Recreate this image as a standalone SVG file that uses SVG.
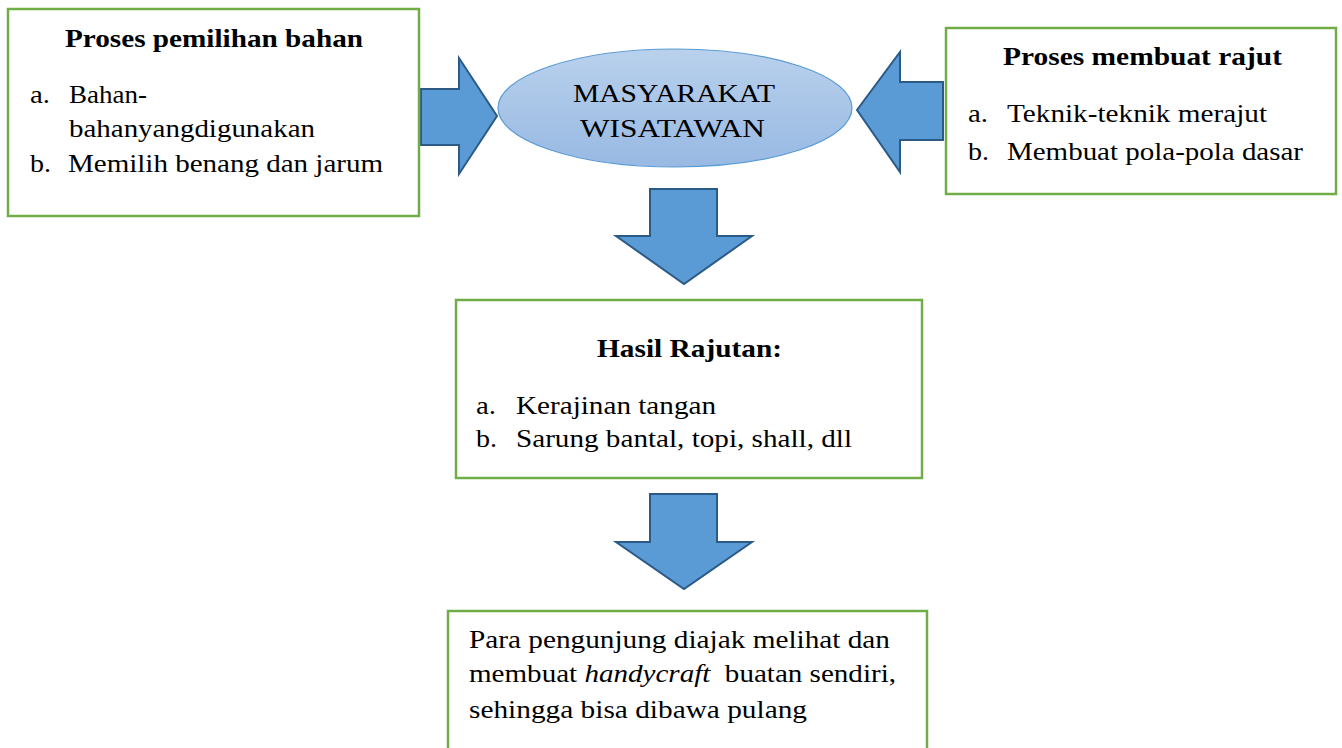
<svg xmlns="http://www.w3.org/2000/svg" width="1342" height="748" viewBox="0 0 1342 748">
<style>
.box{fill:#fff;stroke:#70AD47;stroke-width:2.5}
.arr{fill:#5B9BD5;stroke:#2C5A87;stroke-width:2;stroke-linejoin:miter}
.b{font-weight:bold}
</style>
<defs>
<linearGradient id="eg" x1="0" y1="0" x2="0" y2="1">
<stop offset="0" stop-color="#B9D1EC"/>
<stop offset="1" stop-color="#98B9E3"/>
</linearGradient>
</defs>
<rect width="1342" height="748" fill="#fff"/>
<g id="connectors">
<polygon class="arr" points="421,89 459,89 459,58 497,116 459,174 459,145 421,145"/>
<polygon class="arr" points="943,82 900,82 900,52 857,110 900,172 900,140 943,140"/>
<polygon class="arr" points="650,189 717,189 717,236 752,236 684,284 616,236 650,236"/>
<polygon class="arr" points="650,494 717,494 717,542 752,542 684,589 616,542 650,542"/>
</g>
<g font-family="Liberation Serif, serif" font-size="26" fill="#000">
<g id="node-pemilihan">
<rect class="box" x="8" y="9" width="411" height="207"/>
<text class="b" x="65" y="47" textLength="298" lengthAdjust="spacingAndGlyphs">Proses pemilihan bahan</text>
<text x="30" y="103" textLength="20" lengthAdjust="spacingAndGlyphs">a.</text>
<text x="69" y="103" textLength="78" lengthAdjust="spacingAndGlyphs">Bahan-</text>
<text x="69" y="137" textLength="246" lengthAdjust="spacingAndGlyphs">bahanyangdigunakan</text>
<text x="30" y="172" textLength="21" lengthAdjust="spacingAndGlyphs">b.</text>
<text x="68" y="172" textLength="315" lengthAdjust="spacingAndGlyphs">Memilih benang dan jarum</text>
</g>
<g id="node-masyarakat">
<ellipse cx="675" cy="108" rx="177" ry="59" fill="url(#eg)" stroke="#5B9BD5" stroke-width="1.2"/>
<text x="573" y="102" textLength="202" lengthAdjust="spacingAndGlyphs">MASYARAKAT</text>
<text x="580" y="137" textLength="185" lengthAdjust="spacingAndGlyphs">WISATAWAN</text>
</g>
<g id="node-membuat">
<rect class="box" x="946" y="28" width="390" height="166"/>
<text class="b" x="1003" y="65" textLength="279" lengthAdjust="spacingAndGlyphs">Proses membuat rajut</text>
<text x="968" y="122" textLength="20" lengthAdjust="spacingAndGlyphs">a.</text>
<text x="1007" y="122" textLength="260" lengthAdjust="spacingAndGlyphs">Teknik-teknik merajut</text>
<text x="968" y="160" textLength="21" lengthAdjust="spacingAndGlyphs">b.</text>
<text x="1007" y="160" textLength="296" lengthAdjust="spacingAndGlyphs">Membuat pola-pola dasar</text>
</g>
<g id="node-hasil">
<rect class="box" x="456" y="300" width="466" height="178"/>
<text class="b" x="597" y="357" textLength="185" lengthAdjust="spacingAndGlyphs">Hasil Rajutan:</text>
<text x="476" y="414" textLength="20" lengthAdjust="spacingAndGlyphs">a.</text>
<text x="516" y="414" textLength="200" lengthAdjust="spacingAndGlyphs">Kerajinan tangan</text>
<text x="476" y="447" textLength="21" lengthAdjust="spacingAndGlyphs">b.</text>
<text x="516" y="447" textLength="336" lengthAdjust="spacingAndGlyphs">Sarung bantal, topi, shall, dll</text>
</g>
<g id="node-pengunjung">
<rect class="box" x="448" y="611" width="479" height="150"/>
<text x="469" y="648" textLength="421" lengthAdjust="spacingAndGlyphs">Para pengunjung diajak melihat dan</text>
<text x="469" y="682" textLength="427" lengthAdjust="spacingAndGlyphs" xml:space="preserve">membuat <tspan font-style="italic">handycraft</tspan>  buatan sendiri,</text>
<text x="469" y="718" textLength="338" lengthAdjust="spacingAndGlyphs">sehingga bisa dibawa pulang</text>
</g>
</g>
</svg>
